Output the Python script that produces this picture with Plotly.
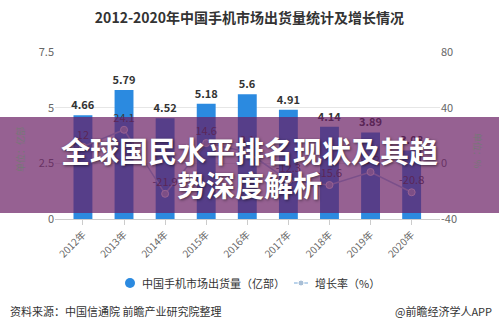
import plotly.graph_objects as go

years = ["2012年", "2013年", "2014年", "2015年", "2016年", "2017年", "2018年", "2019年", "2020年"]
shipments = [4.66, 5.79, 4.52, 5.18, 5.6, 4.91, 4.14, 3.89, 3.08]
growth = [12.0, 24.1, -21.9, 14.6, 8.1, -12.3, -15.6, -6.2, -20.8]
left_ticks = [0, 2.5, 5, 7.5]
right_ticks = [-40, 0, 40, 80]

FONT = "Noto Sans CJK SC"
BAR_BLUE = "#2b8ae0"
LINE_BLUE = "#a3c4e4"

# plot area in pixels: x 55..440, y 52..219
L, R, T, B = 55, 440, 52, 219


def px(x):
    return (x - L) / (R - L)


def py(y):
    return (B - y) / (B - T)


fig = go.Figure()

fig.add_trace(go.Bar(
    x=list(range(len(years))), y=shipments, width=0.46,
    marker=dict(color=BAR_BLUE, line=dict(width=0)),
    text=[f"{v:g}" for v in shipments], textposition="outside",
    constraintext="none",
    textfont=dict(family=FONT, size=11, color="#333333", weight="bold"),
    cliponaxis=False, showlegend=False, yaxis="y",
))

fig.add_trace(go.Scatter(
    x=list(range(len(years))), y=growth, mode="lines+markers+text",
    line=dict(color=LINE_BLUE, width=1.5),
    marker=dict(color="#a9bfd6", size=7, line=dict(color="#ffffff", width=1)),
    text=[f"{v:g}" for v in growth], textposition="top center",
    textfont=dict(family=FONT, size=11, color="#3a3a3a"),
    cliponaxis=False, showlegend=False, yaxis="y2",
))

fig.update_layout(
    width=499, height=330,
    margin=dict(l=L, r=499 - R, t=T, b=330 - B),
    paper_bgcolor="white", plot_bgcolor="white",
    font=dict(family=FONT, color="#666666"),
    title=dict(
        text="2012-2020年中国手机市场出货量统计及增长情况",
        x=0.5, xanchor="center", y=1 - 18 / 330, yanchor="middle",
        font=dict(family=FONT, size=14, color="#333333", weight="bold"),
    ),
    xaxis=dict(
        range=[-0.68, 8.69],
        tickmode="array", tickvals=list(range(len(years))), ticktext=years,
        tickangle=-45, tickfont=dict(size=10, color="#666666"),
        ticks="outside", ticklen=5, tickcolor="#cccccc",
        showline=True, linecolor="#cccccc", showgrid=False, zeroline=False,
    ),
    yaxis=dict(
        range=[0, 7.5], tickvals=left_ticks, ticktext=[f"{v:g}" for v in left_ticks],
        tickfont=dict(size=11, color="#666666"),
        showgrid=True, gridcolor="#e6e6e6", gridwidth=1, zeroline=False,
        showline=False,
    ),
    yaxis2=dict(
        range=[-40, 80], tickvals=right_ticks, ticktext=[f"{v:g}" for v in right_ticks],
        tickfont=dict(size=11, color="#666666"),
        overlaying="y", side="right", showgrid=False, zeroline=False,
    ),
    bargap=0.5,
)

annotations = [
    dict(text="单位：亿部", x=px(20), y=py(150), textangle=-90,
         font=dict(size=9, color="#777777")),
    dict(text="单位：%", x=px(478), y=py(150), textangle=90,
         font=dict(size=9, color="#777777")),
    # legend
    dict(text="中国手机市场出货量（亿部）", x=px(140), y=py(283), xanchor="left",
         font=dict(size=11, color="#333333")),
    dict(text="增长率（%）", x=px(313), y=py(283), xanchor="left",
         font=dict(size=11, color="#333333")),
    # footer
    dict(text="资料来源：中国信通院 前瞻产业研究院整理", x=px(8), y=py(311), xanchor="left",
         font=dict(size=11, color="#333333")),
    dict(text="@前瞻经济学人APP", x=px(494), y=py(311), xanchor="right",
         font=dict(size=11, color="#333333")),
    # overlay banner headline
    dict(text="全球国民水平排名现状及其趋", x=px(250), y=py(150),
         font=dict(size=29, color="#ffffff", weight="bold",
                   shadow="1px 1px 3px rgba(0,0,0,0.55)")),
    dict(text="势深度解析", x=px(250), y=py(184),
         font=dict(size=29, color="#ffffff", weight="bold",
                   shadow="1px 1px 3px rgba(0,0,0,0.55)")),
]
for a in annotations:
    a.update(xref="paper", yref="paper", showarrow=False, yanchor="middle",
             xanchor=a.get("xanchor", "center"))
    a["font"].setdefault("family", FONT)
fig.update_layout(annotations=annotations)

shapes = [
    # translucent purple banner across the chart
    dict(type="rect", xref="paper", yref="paper", x0=px(0), x1=px(499),
         y0=py(213), y1=py(117), fillcolor="rgba(105,30,100,0.7)",
         line=dict(width=0), layer="above"),
    # legend icons
    dict(type="circle", xref="paper", yref="paper", x0=px(125), x1=px(135),
         y0=py(288), y1=py(278), fillcolor=BAR_BLUE, line=dict(width=0)),
    dict(type="line", xref="paper", yref="paper", x0=px(294), x1=px(308),
         y0=py(283), y1=py(283), line=dict(color=LINE_BLUE, width=1.5)),
    dict(type="circle", xref="paper", yref="paper", x0=px(298), x1=px(304),
         y0=py(286), y1=py(280), fillcolor="#a9bfd6", line=dict(color="white", width=1)),
]
fig.update_layout(shapes=shapes)

fig.write_html("out.html")
